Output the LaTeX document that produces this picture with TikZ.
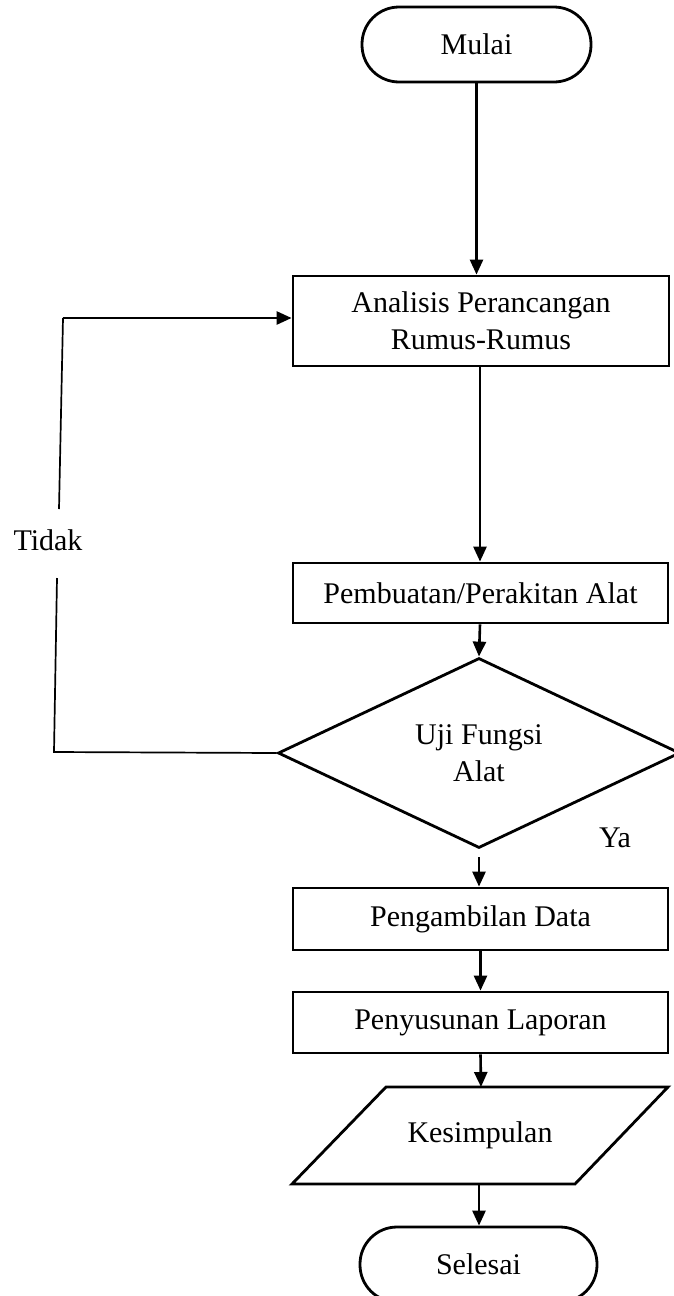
\documentclass[tikz,border=0pt]{standalone}
\usepackage{fontspec}
\setmainfont{Liberation Serif}
\usetikzlibrary{arrows.meta,shapes.geometric}
\begin{document}
\begin{tikzpicture}[x=1pt,y=-1pt,
  every node/.style={font=\fontsize{30}{37}\selectfont, align=center},
  shapeline/.style={draw=black, line width=2.8pt},
  boxnode/.style={shapeline, rectangle, inner sep=0pt},
  termnode/.style={shapeline, rectangle, rounded corners=37pt, inner sep=0pt, minimum width=237pt, minimum height=75pt},
  arr/.style={line width=2.6pt, -{Triangle[length=15pt,width=13pt]}},
  thinline/.style={line width=1.7pt}]
\useasboundingbox (0,0) rectangle (673,1296);
% nodes
\node[termnode, minimum width=229pt] (mulai) at (476.5,44.5) {Mulai};
\node[boxnode, minimum width=376pt, minimum height=90pt] (ana) at (481,321) {Analisis Perancangan\\Rumus-Rumus};
\node[boxnode, minimum width=375pt, minimum height=60pt] (buat) at (480.5,593) {Pembuatan/Perakitan Alat};
\node[shapeline, diamond, inner sep=0pt, minimum width=402pt, minimum height=190pt] (uji) at (479,753) {Uji Fungsi\\Alat};
\node (ya) at (615,838) {Ya};
\node (tidak) at (48,540) {Tidak};
\node[boxnode, minimum width=375pt, minimum height=62pt] (data) at (480.5,919) {Pengambilan Data};
\node[boxnode, minimum width=375pt, minimum height=61pt] (lap) at (480.5,1022.5) {Penyusunan Laporan};
\node (kes) at (480,1135.5) {Kesimpulan};
\coordinate (kesTL) at (386,1087);
\coordinate (kesTR) at (668,1087);
\coordinate (kesBR) at (575,1184);
\coordinate (kesBL) at (292,1184);
\draw[shapeline, line join=miter] (kesTL) -- (kesTR) -- (kesBR) -- (kesBL) -- cycle;
\coordinate (kesT) at (481,1087);
\coordinate (kesB) at (479,1184);
\node[termnode] (sel) at (478.5,1264.5) {Selesai};
% helper coordinates
\coordinate (ujiB) at (479,857);
\coordinate (fb1) at (54,752);
\coordinate (fb2) at (57,578);
\coordinate (fb3) at (59,509);
\coordinate (fb4) at (63,318);
% connectors
\draw[arr] (mulai.south) -- (mulai.south |- ana.north);
\draw[arr] (ana.south -| 480,0) -- (buat.north -| 480,0);
\draw[arr] (buat.south -| 480,0) -- (uji.north);
\draw[arr] (ujiB) -- (data.north -| ujiB);
\draw[arr] (data.south) -- (lap.north);
\draw[arr] (lap.south) -- (kesT);
\draw[arr] (kesB) -- (sel.north -| kesB);
\draw[thinline] (uji.west) -- (fb1) -- (fb2);
\draw[thinline] (fb3) -- (fb4);
\draw[arr] (fb4) -- (fb4 -| ana.west);
\end{tikzpicture}
\end{document}
